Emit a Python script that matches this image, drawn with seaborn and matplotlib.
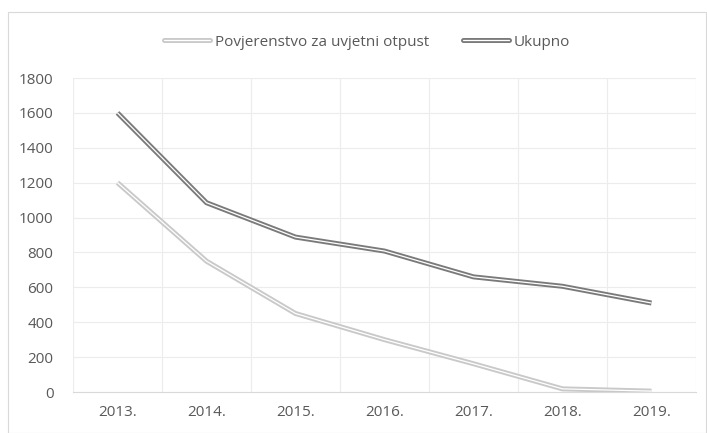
import numpy as np
import pandas as pd
import matplotlib.pyplot as plt
import seaborn as sns
from matplotlib.lines import Line2D
from matplotlib.legend_handler import HandlerTuple
from matplotlib.patches import Rectangle

years = ['2013.', '2014.', '2015.', '2016.', '2017.', '2018.', '2019.']
povjerenstvo = [1200, 750, 450, 300, 162, 18, 5]
ukupno = [1600, 1085, 888, 808, 660, 606, 510]

sns.set_style('white')
plt.rcParams['font.family'] = ['Open Sans', 'DejaVu Sans']

df = pd.DataFrame({'godina': years, 'pos': np.arange(len(years)),
                   'Povjerenstvo za uvjetni otpust': povjerenstvo,
                   'Ukupno': ukupno})

fig = plt.figure(figsize=(7.07, 4.33), dpi=100)
ax = fig.add_axes([73 / 707, 1 - 392 / 433, (696 - 73) / 707, (392 - 78) / 433])

text_col = '#595959'
series = [('Povjerenstvo za uvjetni otpust', '#c9c9c9'), ('Ukupno', '#7a7a7a')]
handles = []
for name, col in series:
    # double line: thick grey line with thin white core
    sns.lineplot(data=df, x='pos', y=name, ax=ax, color=col, lw=3.6,
                 solid_capstyle='butt', zorder=3)
    sns.lineplot(data=df, x='pos', y=name, ax=ax, color='white', lw=0.9,
                 solid_capstyle='butt', zorder=4)
    handles.append((Line2D([], [], color=col, lw=3.6),
                    Line2D([], [], color='white', lw=0.9)))

ax.set_xlim(-0.5, len(years) - 0.5)
ax.set_ylim(0, 1800)
ax.set_yticks(np.arange(0, 1801, 200))
ax.set_xticks(np.arange(len(years)))
ax.set_xticklabels(years)
ax.set_xticks(np.arange(len(years) + 1) - 0.5, minor=True)
ax.set_xlabel('')
ax.set_ylabel('')
ax.grid(axis='y', color='#ececec', lw=0.8)
ax.grid(axis='x', which='minor', color='#ececec', lw=0.8)
ax.tick_params(axis='both', which='both', length=0, colors=text_col, labelsize=11)
ax.tick_params(axis='x', pad=9)
ax.tick_params(axis='y', pad=14)
for s in ['top', 'right', 'left']:
    ax.spines[s].set_visible(False)
ax.spines['bottom'].set_color('#d9d9d9')

fig.legend(handles, [s[0] for s in series], handler_map={tuple: HandlerTuple(ndivide=1)},
           loc='center', bbox_to_anchor=(367 / 707, 1 - 42 / 433), ncol=2, frameon=False,
           fontsize=11, labelcolor=text_col, handlelength=3.0, handletextpad=0.3,
           columnspacing=2.2)

fig.patches.append(Rectangle((8 / 707, 0), 1 - 9 / 707, 1 - 12 / 433,
                             transform=fig.transFigure, fill=False,
                             edgecolor='#d9d9d9', lw=0.8))

fig.savefig('out.png', dpi=100)
